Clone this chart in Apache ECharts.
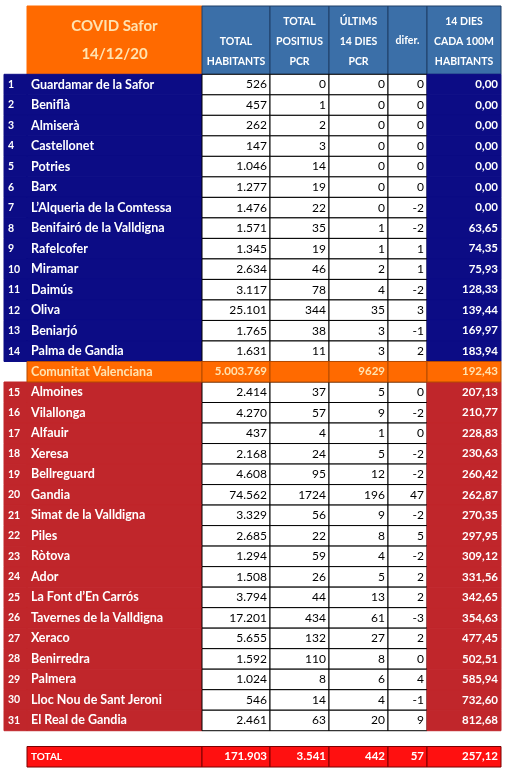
<!DOCTYPE html>
<html><head><meta charset="utf-8">
<script src="https://cdn.jsdelivr.net/npm/echarts@6/dist/echarts.min.js"></script>
<style>html,body{margin:0;padding:0;background:#fff}#c{width:506px;height:782px}</style>
</head><body><div id="c"></div>
<script>
const names = ["Guardamar de la Safor","Beniflà","Almiserà","Castellonet","Potries","Barx","L’Alqueria de la Comtessa","Benifairó de la Valldigna","Rafelcofer","Miramar","Daimús","Oliva","Beniarjó","Palma de Gandia",
"Almoines","Vilallonga","Alfauir","Xeresa","Bellreguard","Gandia","Simat de la Valldigna","Piles","Ròtova","Ador","La Font d’En Carrós","Tavernes de la Valldigna","Xeraco","Benirredra","Palmera","Lloc Nou de Sant Jeroni","El Real de Gandia"];
const habitants = ["526","457","262","147","1.046","1.277","1.476","1.571","1.345","2.634","3.117","25.101","1.765","1.631",
"2.414","4.270","437","2.168","4.608","74.562","3.329","2.685","1.294","1.508","3.794","17.201","5.655","1.592","1.024","546","2.461"];
const positius = [0,1,2,3,14,19,22,35,19,46,78,344,38,11,37,57,4,24,95,1724,56,22,59,26,44,434,132,110,8,14,63];
const ultims14 = [0,0,0,0,0,0,0,1,1,2,4,35,3,3,5,9,1,5,12,196,9,8,4,5,13,61,27,8,6,4,20];
const difer = [0,0,0,0,0,0,-2,-2,1,1,-2,3,-1,2,0,-2,0,-2,-2,47,-2,5,-2,2,2,-3,2,0,4,-1,9];
const rate = ["0,00","0,00","0,00","0,00","0,00","0,00","0,00","63,65","74,35","75,93","128,33","139,44","169,97","183,94",
"207,13","210,77","228,83","230,63","260,42","262,87","270,35","297,95","309,12","331,56","342,65","354,63","477,45","502,51","585,94","732,60","812,68"];
const headers = ["TOTAL\nHABITANTS","TOTAL\nPOSITIUS\nPCR","ÚLTIMS\n14 DIES\nPCR","difer.","14 DIES\nCADA 100M\nHABITANTS"];
const title = "COVID Safor\n14/12/20";
const cvRow = ["Comunitat Valenciana","5.003.769","","9629","","192,43"];
const totalRow = ["TOTAL","171.903","3.541","442","57","257,12"];

const colEdges = [4,27,202,270,329,388,427,501];
const NAVY="#0c0c85", RED="#c0262b", BLUE="#3b6fa8", ORANGE="#ff6a00";
const cells = [];
function cell(c0,c1,slot,span,text,fill,color,align,bold,size,stroke){cells.push([colEdges[c0],colEdges[c1],slot,span,text,fill,color,align,bold?1:0,size||12,stroke||"#000"]);}
// header
cell(1,2,-3.33,3.33,title,ORANGE,"#ffe3b0","center",1,15,ORANGE);
headers.forEach((h,i)=>cell(i+2,i+3,-3.33,3.33,h,BLUE,"#fff","center",1,10.5,"#1f3f66"));
for(let i=0;i<31;i++){
  const slot = i<14?i:i+1; const bg = i<14?NAVY:RED;
  cell(0,1,slot,1,String(i+1),bg,"#fff","left",1,10.5,bg);
  cell(1,2,slot,1,names[i],bg,"#fff","left",1,12.5,bg);
  cell(2,3,slot,1,habitants[i],"#fff","#000","right",0,12);
  cell(3,4,slot,1,String(positius[i]),"#fff","#000","right",0,12);
  cell(4,5,slot,1,String(ultims14[i]),"#fff","#000","right",0,12);
  cell(5,6,slot,1,String(difer[i]),"#fff","#000","right",0,12);
  cell(6,7,slot,1,rate[i],bg,"#fff","right",1,11.5,bg);
}
cvRow.forEach((t,j)=>cell(j+1,j+2,14,1,t,ORANGE,"#ffe3b0",j==0?"left":"right",1,j==0?12.5:11.5,"#b34a00"));
totalRow.forEach((t,j)=>cell(j+1,j+2,32.77,1,t,"#ff1010","#fff",j==0?"left":"right",1,j==0?10:11.5,"#7a0000"));

const chart = echarts.init(document.getElementById('c'));
chart.setOption({
  animation:false,
  grid:{left:0,top:6,width:506,height:37.83*20.75},
  xAxis:{type:'value',min:0,max:506,show:false},
  yAxis:{type:'value',min:-3.33,max:34.5,inverse:true,show:false},
  series:[{type:'custom',data:cells,renderItem:function(params,api){
    const d=cells[params.dataIndex];
    const p0=api.coord([d[0],d[2]]), p1=api.coord([d[1],d[2]+d[3]]);
    const w=p1[0]-p0[0], h=p1[1]-p0[1];
    const tx = d[7]=="left"?p0[0]+4:(d[7]=="right"?p1[0]-3:p0[0]+w/2);
    return {type:'group',children:[
      {type:'rect',shape:{x:p0[0],y:p0[1],width:w,height:h},style:{fill:d[5],stroke:d[10],lineWidth:1}},
      {type:'text',style:{x:tx,y:(d[4].indexOf("\n")>=0 && d[5]==BLUE)?p1[1]-3:p0[1]+h/2,text:d[4],fill:d[6],align:d[7],
        verticalAlign:(d[4].indexOf("\n")>=0 && d[5]==BLUE)?'bottom':'middle',
        font:(d[8]?'bold ':'')+d[9]+'px Lato, "Open Sans", sans-serif',lineHeight:d[9]*1.9}}
    ]};
  }}]
});
</script></body></html>
